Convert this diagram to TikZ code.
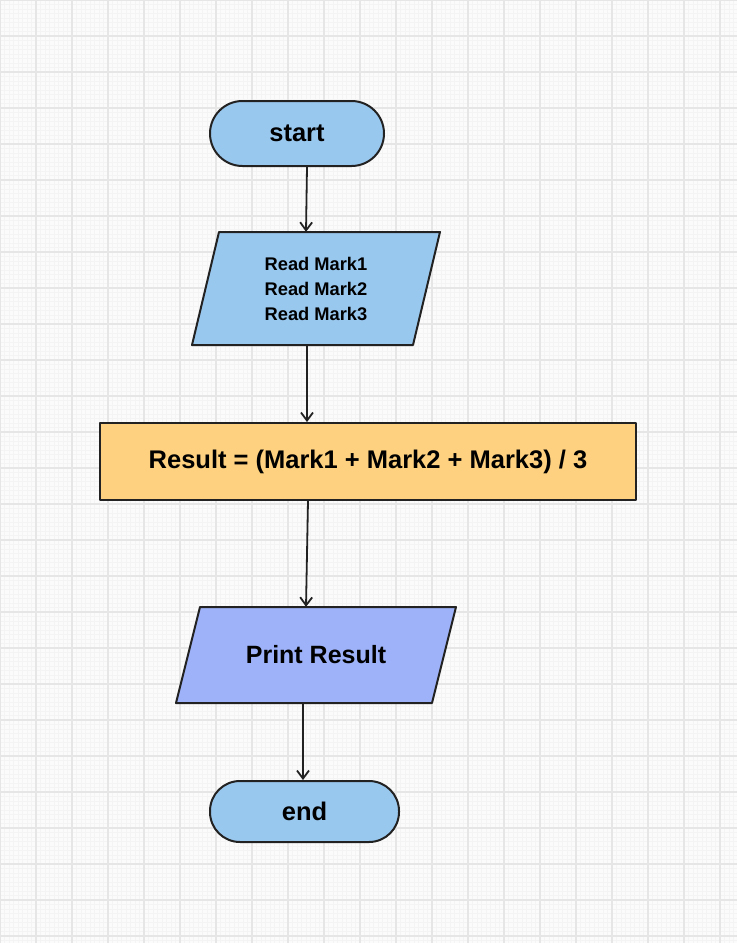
\documentclass[tikz,border=0pt]{standalone}
\usepackage{fontspec}
\setmainfont{Liberation Sans}
\usetikzlibrary{arrows.meta}
\definecolor{bg}{HTML}{FBFBFB}
\definecolor{gridminor}{HTML}{F4F4F4}
\definecolor{gridmajor}{HTML}{E6E6E6}
\definecolor{ink}{HTML}{222222}
\definecolor{termblue}{HTML}{99C8EF}
\definecolor{procorange}{HTML}{FDD17F}
\definecolor{printblue}{HTML}{9EB2F9}
\tikzset{
  shapeline/.style={draw=ink, line width=2pt, line join=round},
  terminal/.style={shapeline, fill=termblue, rounded corners=30pt, inner sep=0pt,
    font=\fontsize{25.5}{28}\selectfont\bfseries, text=black},
  procbox/.style={shapeline, fill=procorange, inner sep=0pt,
    font=\fontsize{25.5}{28}\selectfont\bfseries, text=black},
  iolabel/.style={inner sep=0pt, text=black, align=center},
  arr/.style={draw=ink, line width=1.8pt, -{Straight Barb[length=8pt,width=12pt,line width=1.8pt]}},
}
\begin{document}
\begin{tikzpicture}[x=1pt,y=-1pt]
\useasboundingbox (0,0) rectangle (737,943);
\fill[bg] (0,0) rectangle (737,943);
\draw[gridminor, line width=0.3pt, step=4.5pt] (0,0) grid (737,943);
\draw[gridmajor, line width=1.5pt, step=36pt] (0,0) grid (737,943);

% terminals and process
\node[terminal, minimum width=174pt, minimum height=65pt, rounded corners=32.5pt] (start) at (297,133.5) {start};
\node[procbox, minimum width=536pt, minimum height=77pt] (calc) at (368,461.5) {Result = (Mark1 + Mark2 + Mark3) / 3};
\node[terminal, minimum width=189pt, minimum height=61pt] (end) at (304.5,811.5) {end};

% input parallelogram
\filldraw[shapeline, fill=termblue] (219,232) -- (440,232) -- (413,345) -- (192,345) -- cycle;
\node[iolabel, minimum width=221pt, minimum height=113pt,
  font=\fontsize{18.3}{25}\selectfont\bfseries] (read) at (316,288.5) {Read Mark1\\Read Mark2\\Read Mark3};

% output parallelogram
\filldraw[shapeline, fill=printblue] (200,607) -- (456,607) -- (432,703) -- (176,703) -- cycle;
\node[iolabel, minimum width=256pt, minimum height=96pt,
  font=\fontsize{25}{28}\selectfont\bfseries] (print) at (316,655) {Print Result};

% connector anchors
\coordinate (x307) at (307,0);
\coordinate (x306) at (306,0);
\coordinate (x308) at (308,0);
\coordinate (x303) at (303,0);

\draw[arr] (start.south -| x307) -- (read.north -| x306);
\draw[arr] (read.south -| x307) -- (calc.north -| x307);
\draw[arr] (calc.south -| x308) -- (print.north -| x306);
\draw[arr] (print.south -| x303) -- (end.north -| x303);
\end{tikzpicture}
\end{document}
